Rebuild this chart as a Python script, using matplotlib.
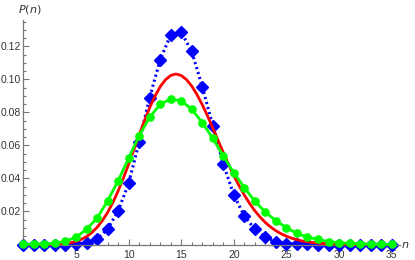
import numpy as np
import matplotlib
matplotlib.use("Agg")
import matplotlib.pyplot as plt
from matplotlib.ticker import MultipleLocator, FixedLocator

# photon-number distributions
n = list(range(0, 36))

blue_p = [0, 0, 0, 0, 0, 0.0003, 0.0010, 0.0033, 0.0094, 0.0203,
          0.0370, 0.0620, 0.0890, 0.1120, 0.1270, 0.1285, 0.1170, 0.0956,
          0.0720, 0.0488, 0.0300, 0.0173, 0.0092, 0.0044, 0.0017, 0.0006,
          0.0002, 0.0001, 0, 0, 0, 0, 0, 0, 0, 0]

green_p = [0.0001, 0.0002, 0.0004, 0.0007, 0.0020, 0.0044, 0.0092, 0.0160,
           0.0264, 0.0386, 0.0523, 0.0660, 0.0770, 0.0850, 0.0881, 0.0870,
           0.0820, 0.0738, 0.0644, 0.0536, 0.0435, 0.0345, 0.0262, 0.0196,
           0.0144, 0.0102, 0.0068, 0.0044, 0.0031, 0.0018, 0.0011, 0.0007,
           0.0004, 0.0002, 0.0001, 0.0001]

# smooth curve, sampled every half step from 0 to 35
red_n = np.arange(0, 35.5, 0.5)
red_p = [0, 0, 0, 0, 0.00003, 0.0001, 0.0002, 0.0004, 0.0006, 0.0011,
         0.0019, 0.0031, 0.0048, 0.0072, 0.0104, 0.0144, 0.0194, 0.0254,
         0.0324, 0.0402, 0.0486, 0.0574, 0.0663, 0.0749, 0.0829, 0.0898,
         0.0956, 0.0998, 0.1024, 0.1033, 0.1024, 0.0999, 0.0960, 0.0908,
         0.0847, 0.0779, 0.0706, 0.0631, 0.0557, 0.0486, 0.0418, 0.0356,
         0.0299, 0.0249, 0.0204, 0.0166, 0.0133, 0.0106, 0.0083, 0.0065,
         0.0050, 0.0038, 0.0029, 0.0021, 0.0016, 0.0012, 0.0009, 0.0006,
         0.0004, 0.0003, 0.0002, 0.0001, 0.0001, 0, 0, 0, 0, 0, 0, 0, 0]

x_ticks = [5, 10, 15, 20, 25, 30, 35]
y_ticks = [0.02, 0.04, 0.06, 0.08, 0.10, 0.12]

plt.rcParams['font.family'] = ['Liberation Sans', 'DejaVu Sans']

fig = plt.figure(figsize=(4.15, 2.6), dpi=100)
ax = fig.add_axes([0.0564, 0.0596, 0.964 - 0.0564, 0.923 - 0.0596])

ax.plot(n, blue_p, color=(0, 0, 1), lw=2.2, ls=(0, (0.7, 1.0)),
        marker='D', ms=5.8, mec=(0, 0, 1), clip_on=False, zorder=2)
ax.plot(red_n, red_p, color=(1, 0, 0), lw=2.0, clip_on=False, zorder=3)
ax.plot(n, green_p, color=(0, 1, 0), lw=2.0, marker='o', ms=5.2,
        clip_on=False, zorder=4)

ax.set_xlim(0, 35.8)
ax.set_ylim(0, 0.136)

for s in ['top', 'right']:
    ax.spines[s].set_visible(False)
for s in ['left', 'bottom']:
    ax.spines[s].set_color('#777777')
    ax.spines[s].set_linewidth(0.9)

ax.xaxis.set_major_locator(FixedLocator(x_ticks))
ax.yaxis.set_major_locator(FixedLocator(y_ticks))
ax.xaxis.set_minor_locator(MultipleLocator(1))
ax.yaxis.set_minor_locator(MultipleLocator(0.005))
ax.set_xticklabels([str(v) for v in x_ticks])
ax.set_yticklabels(['%.2f' % v for v in y_ticks])

ax.tick_params(which='both', direction='in', color='#777777', labelsize=7.5,
               labelcolor='#333333', width=0.8)
ax.tick_params(which='major', length=4)
ax.tick_params(axis='x', which='major', pad=4)
ax.tick_params(axis='y', which='major', pad=2)
ax.tick_params(which='minor', length=2)

fig.text(0.072, 0.965, r'$P(n)$', ha='center', va='center', fontsize=8,
         color='#333333', math_fontfamily='dejavusans')
fig.text(0.976, 0.058, r'$n$', ha='center', va='center', fontsize=8,
         color='#333333')

fig.savefig('out.png', dpi=100)
